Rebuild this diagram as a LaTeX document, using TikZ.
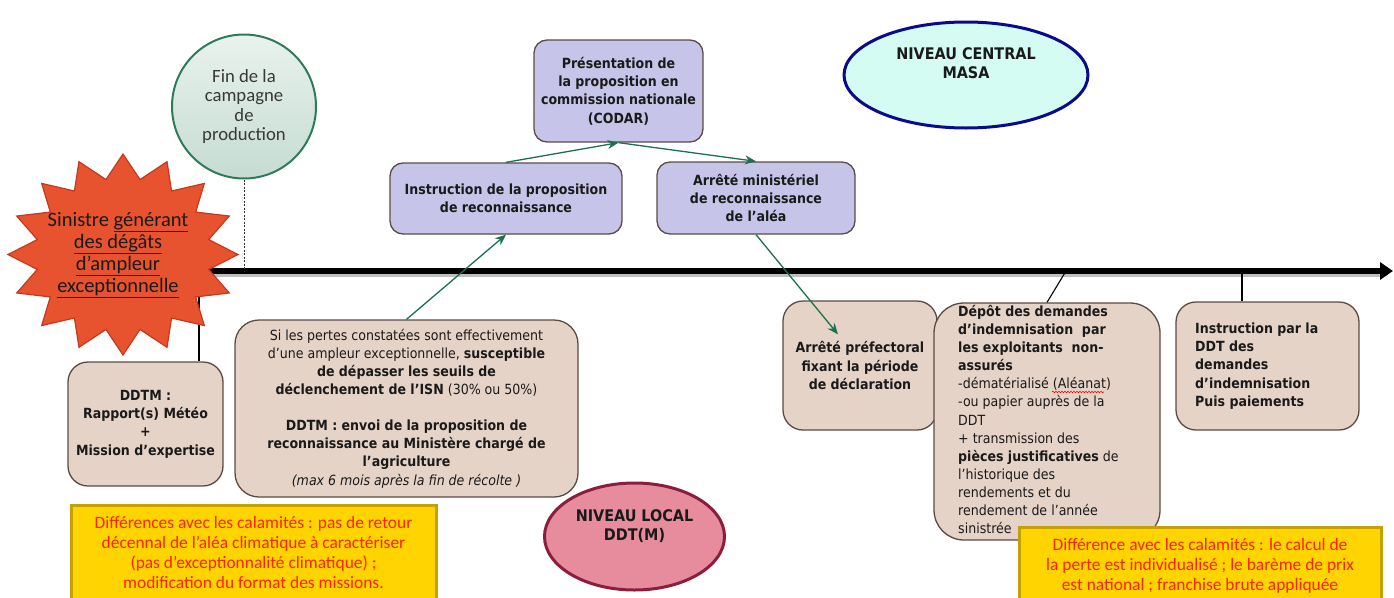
\documentclass[tikz,border=0pt]{standalone}
\usepackage{fontspec}
\setmainfont{Carlito}
\newfontfamily\bx{DejaVu Sans Condensed}
\usetikzlibrary{arrows.meta,shapes.geometric,calc,decorations.pathmorphing}
\definecolor{beige}{HTML}{E6D3C7}
\definecolor{lav}{HTML}{C6C4E8}
\definecolor{bordc}{HTML}{5B4B45}
\definecolor{txt}{HTML}{1A1A1A}
\definecolor{garr}{HTML}{1E6E50}
\definecolor{starf}{HTML}{E8532F}
\definecolor{stard}{HTML}{C4391E}
\definecolor{circd}{HTML}{2F7A5A}
\definecolor{circt}{HTML}{E9F2EE}
\definecolor{circb}{HTML}{C5DCD2}
\definecolor{yelf}{HTML}{FFD400}
\definecolor{yeld}{HTML}{C4A000}
\definecolor{redt}{HTML}{FF2200}
\definecolor{pinkf}{HTML}{E68C9C}
\definecolor{pinkd}{HTML}{8A1E3C}
\definecolor{cyanf}{HTML}{D4FCF3}
\definecolor{navy}{HTML}{0A0A8C}
\tikzset{
  boxsty/.style={draw=bordc, line width=1.3pt, text=txt, align=center, inner sep=0pt,
    font=\bx\fontsize{14}{18.3}\selectfont},
  lavbox/.style={boxsty, fill=lav, rounded corners=13pt, font=\bx\bfseries\fontsize{14}{18.3}\selectfont},
  beibox/.style={boxsty, fill=beige, rounded corners=20pt},
  yelbox/.style={draw=yeld, line width=3pt, fill=yelf, text=redt, align=center, inner sep=0pt,
    font=\fontsize{17.4}{20}\selectfont},
  garrow/.style={draw=garr, line width=1.3pt, -{Stealth[length=11pt,width=9pt]}},
  thinline/.style={draw=black, line width=1.1pt},
  timeline/.style={draw=black, line width=6pt, -{Triangle[length=13pt,width=17pt]}},
}
\begin{document}
\begin{tikzpicture}[x=1pt,y=-1pt]
\useasboundingbox (0,0) rectangle (1394,597);
% timeline
\coordinate (tlS) at (123,271);
\coordinate (tlE) at (1393,271);
\coordinate (t1) at (199,271);
\coordinate (t2) at (244,271);
\coordinate (t3) at (1066,271);
\coordinate (t4) at (1242,271);
\draw[line width=6pt, black!25] ($(tlS)+(0,3)$) -- ($(tlE)+(-12,3)$);
\draw[timeline] (tlS) -- (tlE);

% boxes
\node[beibox, minimum width=155pt, minimum height=124pt, font=\bx\bfseries\fontsize{14}{18.3}\selectfont] (ddtm) at (145.5,424)
  {DDTM :\\Rapport(s) Météo\\+\\Mission d’expertise};
\draw[thinline] (t1) -- (t1 |- ddtm.north);

% star
\coordinate (sc) at (123,254.5);
\draw[fill=starf, draw=stard, line width=1.2pt]
  ($(sc)+(90:115 and 100.5)$)
  \foreach \i in {0,...,15}{
    -- ($(sc)+({90+22.5*\i+11.25}:{115*0.76} and {100.5*0.76})$)
    -- ($(sc)+({90+22.5*(\i+1)}:115 and 100.5)$)
  } -- cycle;
\node[font=\fontsize{20.5}{22}\selectfont, align=center, text=txt] (sinistre) at (118,255)
  {Sinistre \underline{générant}\\\underline{des dégâts}\\\underline{d’ampleur}\\\underline{exceptionnelle}};

% circle
\node[circle, draw=circd, line width=2pt, top color=circt, bottom color=circb, minimum size=144pt,
  inner sep=0pt, align=center, text=black!78, font=\fontsize{18.7}{19.5}\selectfont] (fin) at (244,106.5)
  {Fin de la\\campagne\\de\\production};
\draw[draw=black!80, line width=1pt, dash pattern=on 2pt off 1.5pt] (fin.south) -- (t2);

% central nodes
\node[lavbox, minimum width=169pt, minimum height=102pt] (codar) at (618.5,91)
  {Présentation de\\la proposition en\\commission nationale\\(CODAR)};
\node[lavbox, minimum width=232pt, minimum height=71pt] (instr) at (506,198.5)
  {Instruction de la proposition\\de reconnaissance};
\node[lavbox, minimum width=198pt, minimum height=72pt] (am) at (756,198)
  {Arrêté ministériel\\de reconnaissance\\de l’aléa};

\node[beibox, rounded corners=24pt, minimum width=343pt, minimum height=177pt] (pertes) at (406.5,408.5)
  {Si les pertes constatées sont effectivement\\
   d’une ampleur exceptionnelle, \textbf{susceptible}\\
   \textbf{de dépasser les seuils de}\\
   \textbf{déclenchement de l’ISN} (30\% ou 50\%)\\[17pt]
   \textbf{DDTM : envoi de la proposition de}\\
   \textbf{reconnaissance au Ministère chargé de}\\
   \textbf{l’agriculture}\\
   \textit{(max 6 mois après la fin de récolte )}};

\node[beibox, minimum width=154pt, minimum height=129pt, font=\bx\bfseries\fontsize{14}{18.3}\selectfont] (pref) at (860,365.5)
  {Arrêté préfectoral\\fixant la période\\de déclaration};

\node[beibox, rounded corners=30pt, minimum width=226pt, minimum height=237pt] (depot) at (1047,421.5) {};
\node[anchor=north west, align=left, inner sep=0pt, text=txt, font=\bx\fontsize{14}{18.1}\selectfont] (depotT) at (958,305)
  {\textbf{Dépôt des demandes}\\
   \textbf{d’indemnisation\ \ par}\\
   \textbf{les exploitants\ \ non-}\\
   \textbf{assurés}\\
   -dématérialisé (Aléanat)\\
   -ou papier auprès de la\\
   DDT\\
   + transmission des\\
   \textbf{pièces justificatives} de\\
   l’historique des\\
   rendements et du\\
   rendement de l’année\\
   sinistrée};
\draw[red, line width=0.6pt, decorate, decoration={snake, amplitude=0.8pt, segment length=3pt}] (1052,392) -- (1104,392);
\draw[thinline] (t3) -- (depot.north);

\node[beibox, minimum width=183pt, minimum height=128pt] (ddt) at (1267.5,366) {};
\node[anchor=west, align=left, inner sep=0pt, text=txt, font=\bx\bfseries\fontsize{14}{18.3}\selectfont] (ddtT) at (1195,366)
  {Instruction par la\\DDT des\\demandes\\d’indemnisation\\Puis paiements};
\draw[thinline] (t4) -- (t4 |- ddt.north);

% ellipses
\node[ellipse, draw=navy, line width=3pt, fill=cyanf, minimum width=244pt, minimum height=106pt,
  align=center, text=txt, font=\bx\bfseries\fontsize{16}{19}\selectfont] (central) at (966,75)
  {NIVEAU CENTRAL\\MASA\\[4pt]};
\node[ellipse, draw=pinkd, line width=3pt, fill=pinkf, minimum width=180pt, minimum height=107pt,
  align=center, text=txt, font=\bx\bfseries\fontsize{16}{19}\selectfont] (local) at (634.5,536.5)
  {NIVEAU LOCAL\\DDT(M)\\[4pt]};

% yellow boxes
\node[yelbox, minimum width=365pt, minimum height=96pt] (diffL) at (253.5,553)
  {Différences avec les calamités : pas de retour\\
   décennal de l’aléa climatique à caractériser\\
   (pas d’exceptionnalité climatique) ;\\
   modification du format des missions.};
\node[yelbox, minimum width=362pt, minimum height=78pt] (diffR) at (1200,566)
  {Différence avec les calamités : le calcul de\\
   la perte est individualisé ; le barème de prix\\
   est national ; franchise brute appliquée};

% green arrows
\draw[garrow] (pertes.north) -- (instr.south);
\draw[garrow] (instr.north) -- (codar.south);
\draw[garrow] (codar.south) -- (am.north);
\draw[garrow] (am.south) -- ($(pref.north)+(-22,34)$);
\end{tikzpicture}
\end{document}
